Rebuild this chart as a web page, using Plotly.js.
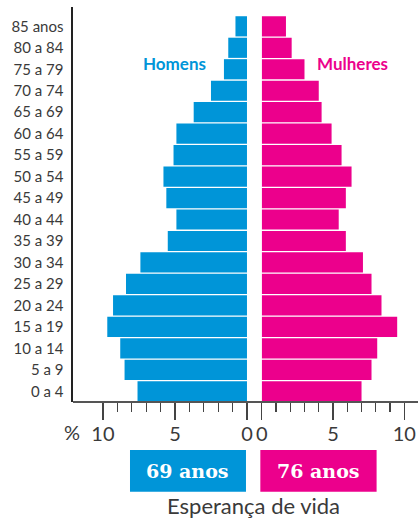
<!DOCTYPE html>
<html>
<head>
<meta charset="utf-8">
<script src="https://cdn.plot.ly/plotly-3.0.1.min.js"></script>
<style>html,body{margin:0;padding:0;background:#fff;}#chart{width:420px;height:520px;}</style>
</head>
<body>
<div id="chart"></div>
<script>
const ageGroups = ["0 a 4","5 a 9","10 a 14","15 a 19","20 a 24","25 a 29","30 a 34","35 a 39","40 a 44","45 a 49","50 a 54","55 a 59","60 a 64","65 a 69","70 a 74","75 a 79","80 a 84","85 anos"];
const homens   = [7.6, 8.5, 8.8, 9.7, 9.3, 8.4, 7.4, 5.5, 4.9, 5.6, 5.8, 5.1, 4.9, 3.7, 2.5, 1.6, 1.3, 0.8];
const mulheres = [7.0, 7.7, 8.1, 9.5, 8.4, 7.7, 7.1, 5.9, 5.4, 5.9, 6.3, 5.6, 4.9, 4.2, 4.0, 3.0, 2.1, 1.7];
const majorTicks = [0, 5, 10];
const minorTicks = [1, 2, 3, 4, 6, 7, 8, 9];
const expectancy = {homens: "69 anos", mulheres: "76 anos"};
const labels = {homens: "Homens", mulheres: "Mulheres", footer: "Esperança de vida", unit: "%"};

const BLUE = "#0095d8";
const PINK = "#ec008c";
const FONT = "Lato, 'Open Sans', sans-serif";

const data = [
  {type: "bar", orientation: "h", y: ageGroups, x: homens, xaxis: "x", yaxis: "y",
   marker: {color: BLUE, line: {width: 0}}, hoverinfo: "x+y", name: labels.homens},
  {type: "bar", orientation: "h", y: ageGroups, x: mulheres, xaxis: "x2", yaxis: "y",
   marker: {color: PINK, line: {width: 0}}, hoverinfo: "x+y", name: labels.mulheres}
];

const xCommon = {
  tickmode: "array", tickvals: majorTicks, ticktext: majorTicks.map(String),
  ticks: "outside", ticklen: 17, tickwidth: 1.5, tickcolor: "#444",
  minor: {tickmode: "array", tickvals: minorTicks, ticks: "outside", ticklen: 9, tickwidth: 1.2, tickcolor: "#444"},
  showgrid: false, zeroline: false, showline: false, fixedrange: true,
  ticklabelstandoff: -3,
  tickfont: {family: FONT, size: 20, color: "#3a3a3a"}
};

function note(x, y, text, font) {
  return {xref: "paper", yref: "paper", x: x, y: y, text: text, showarrow: false,
          xanchor: "center", yanchor: "middle", font: font};
}

const layout = {
  width: 420, height: 520,
  margin: {l: 73, r: 2, t: 7, b: 118},
  paper_bgcolor: "#fff", plot_bgcolor: "#fff",
  showlegend: false, bargap: 0.06,
  xaxis: Object.assign({}, xCommon, {domain: [0, 0.5043], range: [12.08, 0], anchor: "y"}),
  xaxis2: Object.assign({}, xCommon, {domain: [0.547, 1], range: [0, 10.96], anchor: "y"}),
  yaxis: {
    type: "category", range: [-0.5, 17.9], anchor: "x",
    showline: true, linecolor: "#222", linewidth: 2.5,
    ticks: "", showgrid: false, zeroline: false, fixedrange: true,
    ticklabelstandoff: 4,
    tickfont: {family: FONT, size: 15, color: "#3a3a3a"}
  },
  shapes: [
    {type: "line", xref: "paper", yref: "paper", x0: 0, x1: 1, y0: 0, y1: 0, line: {color: "#555", width: 2}},
    {type: "rect", xref: "paper", yref: "paper", x0: 0.1652, x1: 0.5014, y0: -0.227, y1: -0.1215, fillcolor: BLUE, line: {width: 0}},
    {type: "rect", xref: "paper", yref: "paper", x0: 0.543, x1: 0.880, y0: -0.227, y1: -0.1215, fillcolor: PINK, line: {width: 0}}
  ],
  annotations: [
    note(0.293, 0.856, labels.homens, {family: FONT, size: 17, color: BLUE, weight: "bold"}),
    note(0.809, 0.856, labels.mulheres, {family: FONT, size: 17, color: PINK, weight: "bold"}),
    note(-0.003, -0.076, labels.unit, {family: FONT, size: 20, color: "#3a3a3a"}),
    note(0.333, -0.1747, expectancy.homens, {family: "'DejaVu Serif', serif", size: 19, color: "#fff", weight: "bold"}),
    note(0.7116, -0.1747, expectancy.mulheres, {family: "'DejaVu Serif', serif", size: 19, color: "#fff", weight: "bold"}),
    note(0.5246, -0.261, labels.footer, {family: FONT, size: 22, color: "#3a3a3a"})
  ]
};

Plotly.newPlot("chart", data, layout, {displayModeBar: false, staticPlot: true});
</script>
</body>
</html>
